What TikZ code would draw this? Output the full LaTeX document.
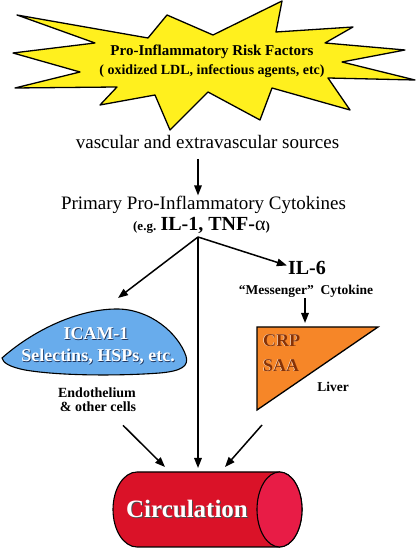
\documentclass[tikz,border=0pt]{standalone}
\usepackage{fontspec}
\setmainfont{Liberation Serif}
\usetikzlibrary{arrows.meta,calc}

\definecolor{burst}{RGB}{255,240,30}
\definecolor{cellblue}{RGB}{104,172,236}
\definecolor{liverorange}{RGB}{246,134,40}
\definecolor{crpbrown}{RGB}{135,50,5}
\definecolor{icamdark}{RGB}{30,50,90}
\definecolor{bloodred}{RGB}{218,18,40}
\definecolor{bloodcap}{RGB}{232,28,70}

% text with an offset copy behind it
\newcommand\raised[3]{\makebox[0pt][l]{\kern#2\raisebox{-#2}{\color{#1}#3}}#3}

\begin{document}
\begin{tikzpicture}[x=1pt,y=1pt,
	lbl/.style={inner sep=0pt,anchor=base,font=\fontsize{#1}{#1}\selectfont},
	blbl/.style={inner sep=0pt,anchor=base,font=\fontsize{#1}{#1}\selectfont\bfseries},
	arr/.style={line width=1.5pt,-{Triangle[length=10pt,width=7.5pt]}}]
	\useasboundingbox (0,0) rectangle (416,548);
	
	% risk factors
	\draw[fill=burst,line width=1.3pt,line join=round] plot coordinates {(17,533) (148,510) (167,533) (213,513) (282,547) (276,516) (353,521) (325,505) (405,498) (342,486) (415,468) (328,470) (350,438) (272,460) (260,428) (208,456) (170,418) (155,453) (100,443) (117,461) (15,460) (80,476) (13,495) (95,505)} -- cycle;
	\node[blbl=15] (risk) at (212,492) {Pro-Inflammatory Risk Factors};
	\node[blbl=14] (agents) at (212,473) {( oxidized LDL, infectious agents, etc)};
	
	% cytokines
	\node[lbl=19] (src) at (207.5,399) {vascular and extravascular sources};
	\node[lbl=19] (prim) at (203.5,338) {Primary Pro-Inflammatory Cytokines};
	\node[blbl=13] (eg) at (201.5,317) {(e.g. {\fontsize{20}{20}\selectfont IL-1, TNF-\mdseries α})};
	\coordinate (br) at (198,311);
	\draw[arr,shorten <=10pt] (src.base -| br) -- ([yshift=1pt]prim.north -| br);
	
	\node[blbl=20] (il6) at (307,273) {IL-6};
	\node[blbl=13.5] (msg) at (306,253) {“Messenger”\ \ Cytokine};
	\draw[arr] (br) -- ([xshift=-1pt,yshift=3pt]il6.west);
	
	% liver
	\coordinate (livtop) at (305,221);
	\draw[fill=liverorange,line width=1.3pt,line join=miter] (257,221) -- (378,221) -- (257,138) coordinate (livbl) -- cycle;
	\draw[arr,shorten >=4pt] (msg.south -| livtop) -- (livtop);
	\node[blbl=18,text=crpbrown,anchor=base west] (crp) at (263,201) {\raised{white}{-0.6pt}{CRP}};
	\node[blbl=18,text=crpbrown,anchor=base west] (saa) at (263,176) {\raised{white}{-0.6pt}{SAA}};
	\node[blbl=13.5] (liver) at (333,156) {Liver};
	
	% endothelium
	\coordinate (icamtip) at (118,250);
	\draw[fill=cellblue,line width=1.1pt] (2,190) .. controls (30,215) and (75,239) .. (117,239)
		.. controls (150,239) and (178,215) .. (186,192) .. controls (189,182) and (182,177) .. (160,175)
		.. controls (120,172) and (60,172) .. (25,178) .. controls (10,181) and (3,185) .. (2,190) -- cycle;
	\draw[arr] (br) -- (icamtip);
	\node[blbl=18,text=white] (icam) at (96,208) {\raised{icamdark}{0.8pt}{ICAM-1}};
	\node[blbl=18,text=white] (sel) at (98,186) {\raised{icamdark}{0.8pt}{Selectins, HSPs, etc.}};
	\node[blbl=14] (endo) at (97,150) {Endothelium};
	\node[blbl=14] (other) at (98,136) {\& other cells};
	
	% circulation
	\coordinate (cyltop) at (198,76);
	\draw[fill=bloodred,line width=1.1pt] (137,76) -- (279.5,76) arc[start angle=90,end angle=-90,x radius=22.5pt,y radius=37.5pt]
		-- (137,1) arc[start angle=270,end angle=90,x radius=24pt,y radius=37.5pt] -- cycle;
	\draw[fill=bloodcap,line width=1.1pt] (279.5,38.5) ellipse[x radius=22.5pt,y radius=37.5pt];
	\node[blbl=25,text=white] (circ) at (187,30) {\raised{black!70}{1pt}{Circulation}};
	\draw[arr,shorten >=4pt] (br) -- (cyltop);
	\draw[arr] ($(other.south)+(25,-13)$) -- ($(cyltop)+(-33,5)$);
	\draw[arr] ($(livbl)+(5,-15)$) -- ($(cyltop)+(27,5)$);
\end{tikzpicture}
\end{document}
